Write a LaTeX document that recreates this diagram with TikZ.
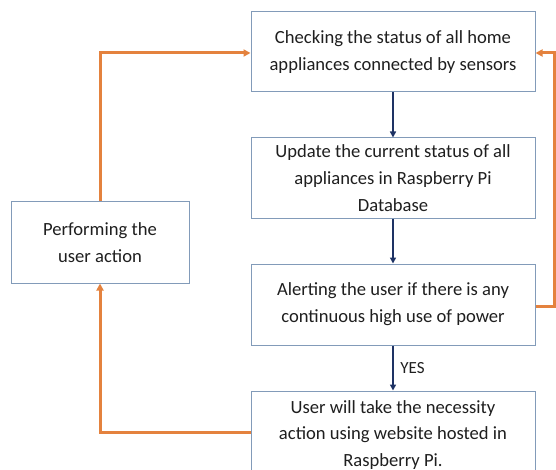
\documentclass[tikz,border=0pt]{standalone}
\usepackage{fontspec}
\setmainfont{Carlito}
\usetikzlibrary{arrows.meta}
\definecolor{boxline}{RGB}{130,155,185}
\definecolor{orng}{RGB}{228,130,62}
\definecolor{navy}{RGB}{30,50,100}
\begin{document}
\begin{tikzpicture}[x=1pt,y=-1pt,
  box/.style={draw=boxline,line width=1pt,fill=white,align=center,inner sep=0pt,
    font=\fontsize{18.6}{27}\selectfont,text=black!88},
  flow/.style={draw=navy,line width=2pt,-{Triangle[length=6pt,width=6pt]}},
  loop/.style={draw=orng,line width=3pt,-{Triangle[length=7pt,width=7pt]}}]
\useasboundingbox (0,0) rectangle (556,470);
\node[box,minimum width=284pt,minimum height=80pt] (b1) at (393,52) {Checking the status of all home\\appliances connected by sensors};
\node[box,minimum width=284pt,minimum height=81pt] (b2) at (393,178.5) {Update the current status of all\\appliances in Raspberry Pi\\Database};
\node[box,minimum width=284pt,minimum height=81pt] (b3) at (393,304.5) {Alerting the user if there is any\\continuous high use of power};
\node[box,minimum width=284pt,minimum height=80pt] (b4) at (393,431) {};
\node[align=center,inner sep=0pt,font=\fontsize{18.6}{26.5}\selectfont,text=black!88] (t4) at (393,435) {User will take the necessity\\action using website hosted in\\Raspberry Pi.};
\node[box,minimum width=178pt,minimum height=81pt] (b5) at (100,242.5) {Performing the\\user action};
\draw[flow] (b1.south) -- (b2.north);
\draw[flow] (b2.south) -- (b3.north);
\draw[flow] (b3.south) -- node[right=3pt,font=\fontsize{17}{19}\selectfont,text=black!88] {YES} (b4.north);
\coordinate (r1) at (554.5,306);
\coordinate (r2) at (554.5,53);
\draw[loop] (b3.east |- r1) -- (r1) -- (r2) -- (b1.east |- r2);
\coordinate (l1) at (100,432);
\coordinate (l2) at (100,53);
\draw[loop] (b4.west |- l1) -- (l1) -- (b5.south);
\draw[loop] (b5.north) -- (l2) -- (b1.west |- l2);
\end{tikzpicture}
\end{document}
